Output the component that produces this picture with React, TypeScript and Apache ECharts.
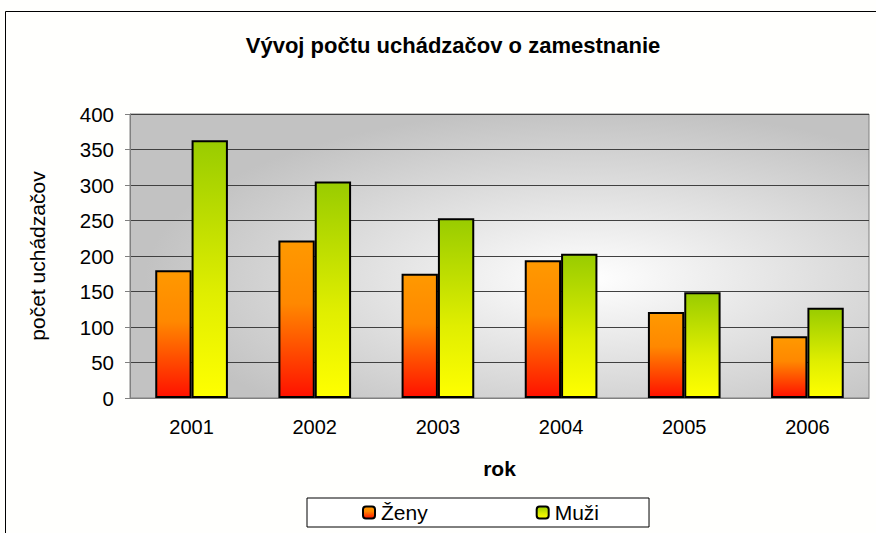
import React, { useEffect, useRef } from "react";
import * as echarts from "echarts";

const years = ["2001", "2002", "2003", "2004", "2005", "2006"];
const zeny = [180, 222, 175, 194, 121, 87];
const muzi = [363, 305, 253, 203, 149, 127];
const titleText = "Vývoj počtu uchádzačov o zamestnanie";
const yName = "počet uchádzačov";
const xName = "rok";

export default function App() {
  const ref = useRef<HTMLDivElement>(null);
  useEffect(() => {
    if (!ref.current) return;
    const chart = echarts.init(ref.current, undefined, { renderer: "svg" });
    const font = "'Liberation Sans', Arial, sans-serif";
    const orange = new echarts.graphic.LinearGradient(0, 0, 0, 1, [
      { offset: 0, color: "#FF9900" },
      { offset: 0.4, color: "#FF8800" },
      { offset: 1, color: "#FF1100" },
    ]);
    const green = new echarts.graphic.LinearGradient(0, 0, 0, 1, [
      { offset: 0, color: "#99CC00" },
      { offset: 0.6, color: "#E0EE00" },
      { offset: 1, color: "#FFFF00" },
    ]);
    chart.setOption({
      animation: false,
      backgroundColor: "#FFFFFD",
      textStyle: { fontFamily: font },
      graphic: [
        {
          type: "rect",
          shape: { x: 5.5, y: 11.5, width: 900, height: 600 },
          style: { fill: "none", stroke: "#000", lineWidth: 1 },
          silent: true,
        },
      ],
      title: {
        text: titleText,
        left: 448,
        textAlign: "center",
        top: 29,
        textStyle: { fontSize: 22, fontWeight: "bold", color: "#000", fontFamily: font },
      },
      grid: {
        left: 130,
        right: 7,
        top: 114,
        bottom: 135,
        show: true,
        borderColor: "#808080",
        borderWidth: 1,
        backgroundColor: new echarts.graphic.RadialGradient(0.62, 0.58, 0.6, [
          { offset: 0, color: "#FFFFFF" },
          { offset: 1, color: "#C2C2C2" },
        ]),
      },
      legend: {
        data: ["Ženy", "Muži"],
        left: 307,
        top: 498,
        padding: [4, 50, 4, 55],
        itemGap: 108,
        itemWidth: 12,
        itemHeight: 12,
        backgroundColor: "#FFFFFF",
        borderColor: "#000",
        borderWidth: 1,
        borderRadius: 0,
        textStyle: { fontSize: 21, color: "#000", fontFamily: font, padding: [0, 0, 0, 1] },
      },
      xAxis: {
        type: "category",
        data: years,
        name: xName,
        nameLocation: "middle",
        nameGap: 60,
        nameTextStyle: { fontSize: 21, fontWeight: "bold", color: "#000" },
        axisLine: { lineStyle: { color: "#808080" } },
        axisTick: { length: 5, lineStyle: { color: "#808080" } },
        axisLabel: { fontSize: 20, color: "#000", margin: 19 },
      },
      yAxis: {
        type: "value",
        min: 0,
        max: 400,
        interval: 50,
        name: yName,
        nameLocation: "middle",
        nameGap: 82,
        nameTextStyle: { fontSize: 21, color: "#000" },
        axisLine: { show: true, lineStyle: { color: "#808080" } },
        axisTick: { show: true, length: 5, lineStyle: { color: "#808080" } },
        axisLabel: { fontSize: 20.5, color: "#000", margin: 16 },
        splitLine: { lineStyle: { color: "#404040", width: 1 } },
      },
      series: [
        {
          name: "Ženy",
          type: "bar",
          data: zeny,
          barGap: "0%",
          barCategoryGap: "41%",
          itemStyle: { color: orange, borderColor: "#000", borderWidth: 2 },
        },
        {
          name: "Muži",
          type: "bar",
          data: muzi,
          barGap: "0%",
          barCategoryGap: "41%",
          itemStyle: { color: green, borderColor: "#000", borderWidth: 2 },
        },
      ],
    });
    return () => chart.dispose();
  }, []);
  return (
    <div
      ref={ref}
      style={{ position: "absolute", left: 0, top: 0, width: 876, height: 533 }}
    />
  );
}
